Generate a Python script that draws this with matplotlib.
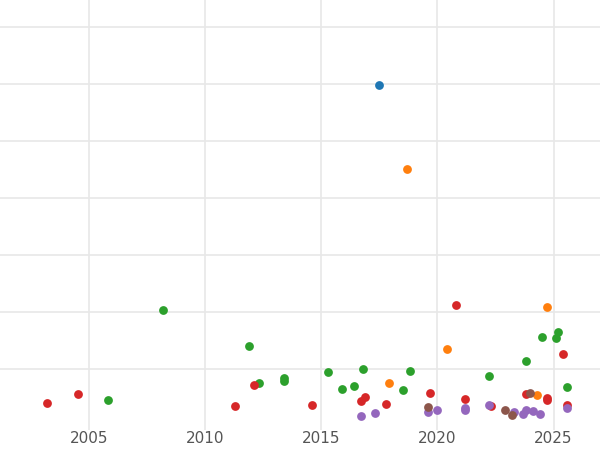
import matplotlib
matplotlib.use("Agg")
import matplotlib.pyplot as plt

# Values (year, value)
blue_x = [2017.5]
blue_y = [5.98]
orange_x = [2018.7, 2024.7, 2020.4, 2017.9, 2024.3]
orange_y = [4.51, 2.09, 1.35, 0.75, 0.54]
green_x = [2008.2, 2011.9, 2005.8, 2012.3, 2013.4, 2013.4, 2015.3, 2015.9, 2016.4,
           2016.8, 2018.5, 2018.8, 2022.2, 2023.8, 2024.5, 2025.1, 2025.2, 2025.6]
green_y = [2.04, 1.40, 0.46, 0.75, 0.79, 0.84, 0.95, 0.65, 0.70,
           1.00, 0.63, 0.96, 0.88, 1.14, 1.56, 1.54, 1.65, 0.68]
red_x = [2003.2, 2004.5, 2011.3, 2012.1, 2014.6, 2016.7, 2016.9, 2017.8, 2019.7,
         2020.8, 2021.2, 2022.3, 2023.8, 2024.7, 2024.7, 2025.4, 2025.6]
red_y = [0.40, 0.56, 0.35, 0.72, 0.37, 0.44, 0.51, 0.39, 0.58,
         2.12, 0.47, 0.35, 0.56, 0.49, 0.46, 1.26, 0.37]
purple_x = [2016.7, 2017.3, 2019.6, 2020.0, 2021.2, 2021.2, 2022.2, 2023.3, 2023.7,
            2023.8, 2024.1, 2024.4, 2025.6]
purple_y = [0.18, 0.23, 0.25, 0.28, 0.28, 0.32, 0.37, 0.25, 0.21,
            0.28, 0.26, 0.21, 0.32]
brown_x = [2019.6, 2022.9, 2023.2, 2024.0]
brown_y = [0.33, 0.28, 0.19, 0.58]

series = [
    (blue_x, blue_y, "#1f77b4"),
    (orange_x, orange_y, "#ff7f0e"),
    (green_x, green_y, "#2ca02c"),
    (red_x, red_y, "#d62728"),
    (purple_x, purple_y, "#9467bd"),
    (brown_x, brown_y, "#8c564b"),
]

fig = plt.figure(figsize=(6, 4.5), dpi=100)
ax = fig.add_axes([0, 20 / 450, 1, 430 / 450])

for xs, ys, color in series:
    ax.scatter(xs, ys, s=40, color=color, zorder=3, linewidths=0)

ax.set_xlim(2001.16, 2027.0)
ax.set_ylim(-0.07, 7.47)
ax.set_xticks([2005, 2010, 2015, 2020, 2025])
ax.set_yticks(range(1, 8))
ax.set_yticklabels([])
ax.grid(True, color="#e8e8e8", lw=1.2, zorder=0)
ax.tick_params(length=0, labelsize=11, colors="#555555", pad=1)
for sp in ax.spines.values():
    sp.set_visible(False)

fig.savefig("out.png", dpi=100)
